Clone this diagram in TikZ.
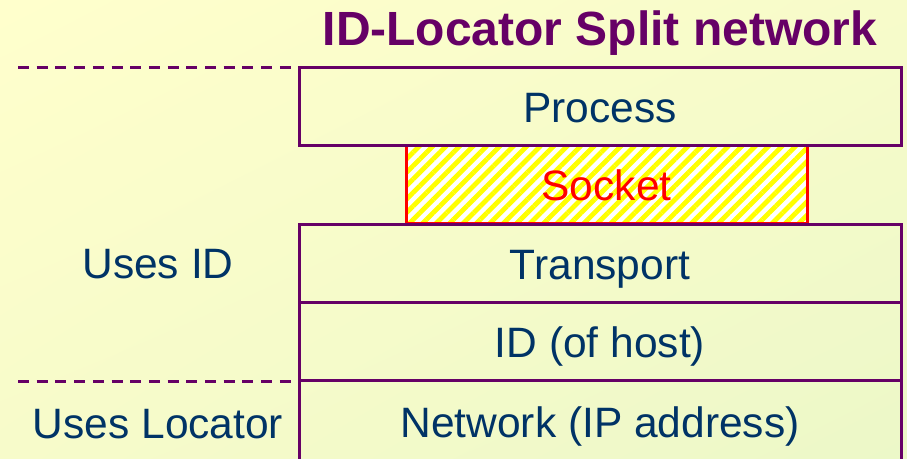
\documentclass[tikz,border=0pt]{standalone}
\usepackage{fontspec}
\setmainfont{Liberation Sans}
\usetikzlibrary{patterns.meta,shadings}
\definecolor{bgA}{HTML}{FFFFCC}
\definecolor{bgB}{HTML}{F7FBCA}
\definecolor{bgC}{HTML}{ECF8C8}
\definecolor{lpurple}{HTML}{660066}
\definecolor{ltext}{HTML}{003366}
\tikzset{
  layerfont/.style={font=\fontsize{42.5}{42.5}\selectfont},
  layerbox/.style={draw=lpurple, line width=3pt, minimum width=602pt, minimum height=78pt,
    inner sep=0pt, text=ltext, layerfont, text height=32pt, text depth=0pt},
  sockbox/.style={draw=red, line width=3pt, minimum width=401pt, minimum height=78pt,
    inner sep=0pt, text=red, layerfont, text height=31pt, text depth=0pt,
    preaction={fill=white},
    pattern={Lines[angle=45,distance=9.5pt,line width=4.8pt]}, pattern color=yellow},
  sidelabel/.style={text=ltext, layerfont, inner sep=0pt, anchor=base},
  sep/.style={draw=lpurple, line width=3pt, dash pattern=on 11pt off 7.7pt},
}
\begin{document}
\begin{tikzpicture}[x=1pt,y=-1pt]
\useasboundingbox (0,0) rectangle (907,458);
\clip (0,0) rectangle (907,458);
\shade[upper left=bgA, upper right=bgB, lower left=bgB, lower right=bgC] (0,0) rectangle (907,458);
\node[font=\fontsize{48}{48}\selectfont\bfseries, text=lpurple, inner sep=0pt, anchor=base] (title) at (600,45) {ID-Locator Split network};
\node[sockbox] (socket) at (606.5,184.5) {Socket};
\node[layerbox] (process) at (600,106) {Process};
\node[layerbox] (transport) at (600,263) {Transport};
\node[layerbox] (idhost) at (600,341.5) {ID (of host)};
\node[layerbox, minimum height=82pt, text height=31pt] (network) at (600,421.5) {Network (IP address)};
\coordinate (d1a) at (18,67);
\coordinate (d1b) at (292,67);
\coordinate (d2a) at (18,381);
\coordinate (d2b) at (292,381);
\draw[sep] (d1a) -- (d1b);
\draw[sep] (d2a) -- (d2b);
\node[sidelabel] (usesid) at (158,278) {Uses ID};
\node[sidelabel] (usesloc) at (158,438) {Uses Locator};
\end{tikzpicture}
\end{document}
